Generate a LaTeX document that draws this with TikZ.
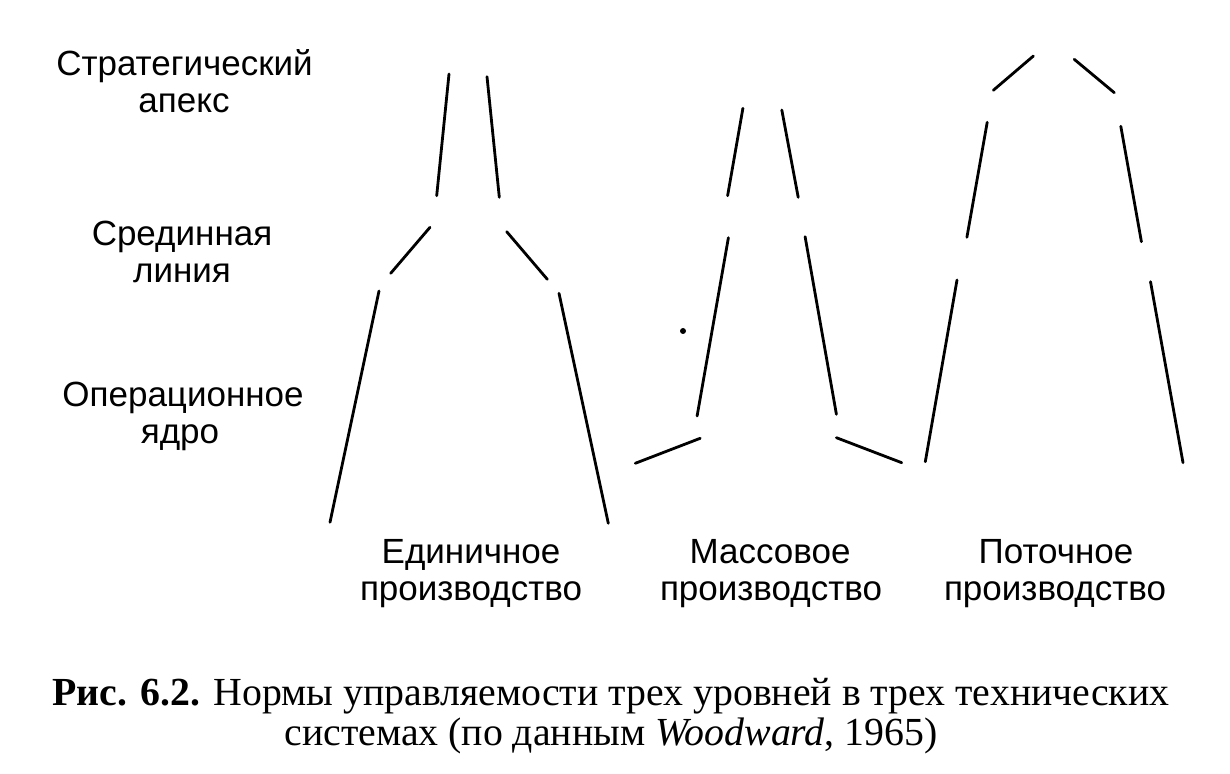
\documentclass[tikz,border=0pt]{standalone}
\usepackage{fontspec}
\setmainfont{Liberation Serif}
\newfontfamily\lblfont{Liberation Sans}
\begin{document}
\begin{tikzpicture}[x=0.5pt,y=-0.5pt,
  seg/.style={line width=1.4pt,line cap=round},
  lbl/.style={font=\lblfont\fontsize{17.5pt}{18pt}\selectfont,anchor=base,inner sep=0pt},
  captext/.style={font=\fontsize{19.9pt}{22pt}\selectfont,anchor=base,inner sep=0pt}]
\useasboundingbox[fill=white] (0,0) rectangle (1230,774);
% left labels
\node[lbl] (s1) at (184.5,76) {Стратегический};
\node[lbl] (s2) at (184,113) {апекс};
\node[lbl] (m1) at (182,246) {Срединная};
\node[lbl] (m2) at (182,283) {линия};
\node[lbl] (o1) at (183,407) {Операционное};
\node[lbl] (o2) at (180,444) {ядро};
% bottom labels
\node[lbl] (e1) at (471,563) {Единичное};
\node[lbl] (e2) at (471,600) {производство};
\node[lbl] (k1) at (770,563) {Массовое};
\node[lbl] (k2) at (771,600) {производство};
\node[lbl] (p1) at (1056,563) {Поточное};
\node[lbl] (p2) at (1055,600) {производство};
% diagram 1
\draw[seg] (449,74) -- (436.7,195.7);
\draw[seg] (487,76.7) -- (499.3,197.3);
\draw[seg] (430,227.3) -- (390.7,273.3);
\draw[seg] (506.7,231.7) -- (547.3,279.3);
\draw[seg] (379,291) -- (330,522.3);
\draw[seg] (559,293.3) -- (608.3,523.3);
% diagram 2
\draw[seg] (742.9,108.3) -- (727.6,195.7);
\draw[seg] (781.8,110) -- (798.2,197.3);
\draw[seg] (728.4,237.7) -- (697.1,416);
\draw[seg] (805.1,236.7) -- (836.4,414.3);
\draw[seg] (700.2,438.3) -- (635.3,463.3);
\draw[seg] (836.4,437.7) -- (901.7,462.7);
% diagram 3
\draw[seg] (1033.4,56) -- (993.3,90.3);
\draw[seg] (1074.2,59.3) -- (1114.3,92.7);
\draw[seg] (987.2,122.3) -- (966.9,237.3);
\draw[seg] (1120.8,126.3) -- (1141.4,241.7);
\draw[seg] (957,280) -- (925.3,461.7);
\draw[seg] (1150.5,281.7) -- (1183,462.7);
\fill (683,331) circle (3);
% caption
\node[captext] (c1) at (611,705) {\textbf{Рис. 6.2.} Нормы управляемости трех уровней в трех технических};
\node[captext] (c2) at (611,745) {системах (по данным \textit{Woodward}, 1965)};
\end{tikzpicture}
\end{document}
